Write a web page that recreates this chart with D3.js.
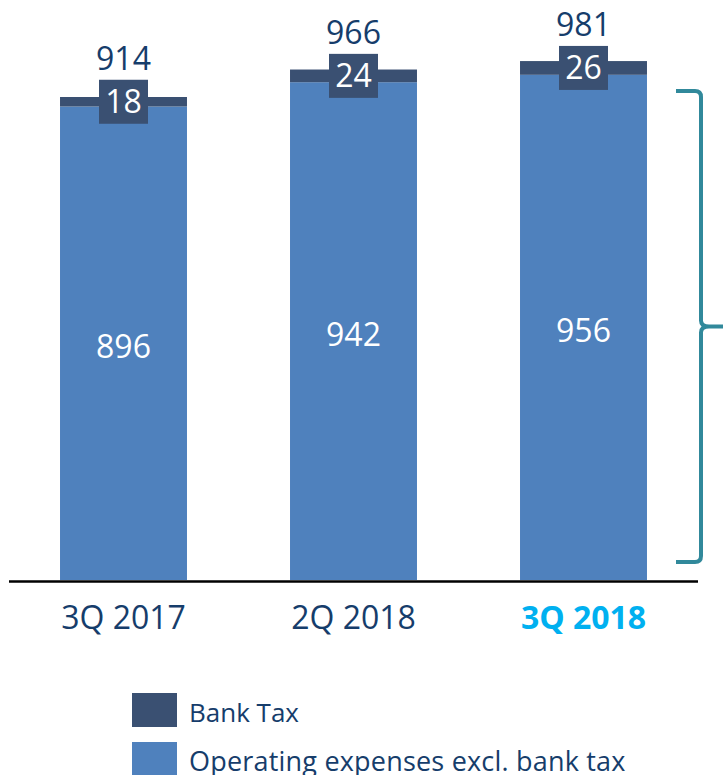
<!DOCTYPE html>
<html>
<head>
<meta charset="utf-8">
<script src="https://cdn.jsdelivr.net/npm/d3@7/dist/d3.min.js"></script>
<style>
  html, body { margin: 0; padding: 0; background: #ffffff; }
  svg { display: block; }
  text { font-family: "Open Sans", "Noto Sans", sans-serif; }
</style>
</head>
<body>
<div id="chart"></div>
<script>
// ---- data ----
const categories = ["3Q 2017", "2Q 2018", "3Q 2018"];
const opexExclTax = [896, 942, 956];
const bankTax = [18, 24, 26];
const totals = [914, 966, 981];
const highlighted = ["3Q 2018"];
const legendLabels = ["Bank Tax", "Operating expenses excl. bank tax"];

// ---- layout ----
const W = 723, H = 775;
const baseY = 580;
const colors = { opex: "#4f81bd", tax: "#3a5072", text: "#163d6b", hi: "#00b0f0", brace: "#31899b" };

const svg = d3.select("#chart").append("svg").attr("width", W).attr("height", H);

const x = d3.scaleBand().domain(categories).range([8.5, 698.5])
  .paddingInner(0.448).paddingOuter(0.224);
const y = d3.scaleLinear().domain([0, 914]).range([baseY, 97]);

const rows = categories.map((c, i) => ({ c, opex: opexExclTax[i], tax: bankTax[i], total: totals[i] }));

const g = svg.append("g");

// opex segment
g.selectAll("rect.opex").data(rows).join("rect")
  .attr("class", "opex")
  .attr("x", d => x(d.c)).attr("width", x.bandwidth())
  .attr("y", d => y(d.opex)).attr("height", d => y(0) - y(d.opex))
  .attr("fill", colors.opex);

// bank tax segment
g.selectAll("rect.tax").data(rows).join("rect")
  .attr("class", "tax")
  .attr("x", d => x(d.c)).attr("width", x.bandwidth())
  .attr("y", d => y(d.opex + d.tax)).attr("height", d => y(d.opex) - y(d.opex + d.tax))
  .attr("fill", colors.tax);

// opex labels
g.selectAll("text.opexLbl").data(rows).join("text")
  .attr("class", "opexLbl")
  .attr("x", d => x(d.c) + x.bandwidth() / 2)
  .attr("y", d => (y(d.opex) + y(0)) / 2 + 14.5)
  .attr("text-anchor", "middle").attr("fill", "#ffffff")
  .attr("font-size", 32).text(d => d.opex);

// tax boxes
const boxW = 49, boxH = 44;
const taxMid = d => (y(d.opex) + y(d.opex + d.tax)) / 2;
g.selectAll("rect.taxBox").data(rows).join("rect")
  .attr("class", "taxBox")
  .attr("x", d => x(d.c) + x.bandwidth() / 2 - boxW / 2)
  .attr("y", d => taxMid(d) - boxH / 2)
  .attr("width", boxW).attr("height", boxH)
  .attr("fill", colors.tax);
g.selectAll("text.taxLbl").data(rows).join("text")
  .attr("class", "taxLbl")
  .attr("x", d => x(d.c) + x.bandwidth() / 2)
  .attr("y", d => taxMid(d) + 11.5)
  .attr("text-anchor", "middle").attr("fill", "#ffffff")
  .attr("font-size", 32).text(d => d.tax);

// totals
g.selectAll("text.total").data(rows).join("text")
  .attr("class", "total")
  .attr("x", d => x(d.c) + x.bandwidth() / 2)
  .attr("y", d => taxMid(d) - boxH / 2 - 10)
  .attr("text-anchor", "middle").attr("fill", colors.text)
  .attr("font-size", 32).text(d => d.total);

// baseline axis
const axis = d3.axisBottom(x).tickSize(0).tickPadding(0);
const ax = svg.append("g").attr("transform", `translate(0,${baseY + 1.5})`).call(axis);
ax.select(".domain").attr("d", `M9,0H698`).attr("stroke", "#000").attr("stroke-width", 2.5);
ax.selectAll(".tick text")
  .attr("y", 47.5).attr("dy", null)
  .attr("font-size", 32)
  .attr("font-family", "'Open Sans', sans-serif")
  .attr("fill", d => highlighted.includes(d) ? colors.hi : colors.text)
  .attr("font-weight", d => highlighted.includes(d) ? "bold" : "normal");

// brace
const bTop = 91, bBot = 562, bMid = 326.5, bx = 701, bl = 676, r = 6;
const bracePath = d3.path();
bracePath.moveTo(bl, bTop);
bracePath.lineTo(bx - r, bTop);
bracePath.quadraticCurveTo(bx, bTop, bx, bTop + r);
bracePath.lineTo(bx, bMid - r);
bracePath.quadraticCurveTo(bx, bMid, bx + r + 2, bMid);
bracePath.lineTo(723, bMid);
bracePath.moveTo(bx + r + 2, bMid);
bracePath.quadraticCurveTo(bx, bMid, bx, bMid + r);
bracePath.lineTo(bx, bBot - r);
bracePath.quadraticCurveTo(bx, bBot, bx - r, bBot);
bracePath.lineTo(bl, bBot);
svg.append("path").attr("d", bracePath.toString())
  .attr("fill", "none").attr("stroke", colors.brace).attr("stroke-width", 4)
  .attr("stroke-linejoin", "round");

// legend
const legColors = [colors.tax, colors.opex];
const leg = svg.append("g");
legendLabels.forEach((lbl, i) => {
  const ly = 693 + i * 49;
  leg.append("rect").attr("x", 132).attr("y", ly).attr("width", 45).attr("height", 34).attr("fill", legColors[i]);
  leg.append("text").attr("x", 189).attr("y", ly + 28.5).attr("fill", colors.text)
    .attr("font-size", i === 0 ? 26 : 27)
    .attr("letter-spacing", i === 0 ? 0 : 0.2)
    .text(lbl);
});
</script>
</body>
</html>
